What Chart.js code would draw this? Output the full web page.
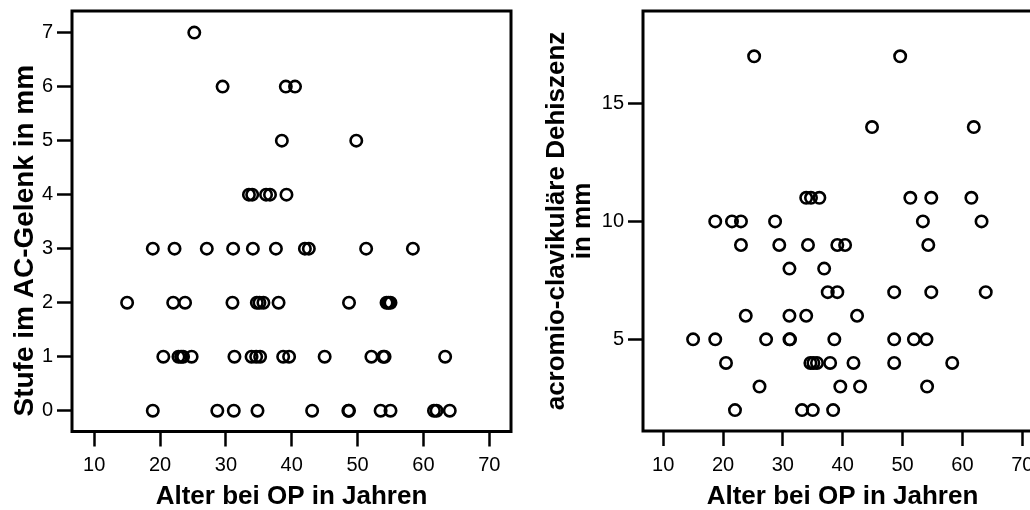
<!DOCTYPE html>
<html>
<head>
<meta charset="utf-8">
<script src="https://cdn.jsdelivr.net/npm/chart.js@4/dist/chart.umd.min.js"></script>
<style>
  html, body { margin: 0; padding: 0; background: #fff; }
  body { width: 1030px; height: 510px; overflow: hidden; position: relative; }
  #wl { position: absolute; left: 0; top: 0; width: 520px; height: 510px; }
  #wr { position: absolute; left: 520px; top: 0; width: 540px; height: 510px; }
</style>
</head>
<body>
<div id="wl"><canvas id="cl" width="520" height="510"></canvas></div>
<div id="wr"><canvas id="cr" width="540" height="510"></canvas></div>
<script>
// ---------- Data ----------
const xTitle = "Alter bei OP in Jahren";
const leftYTitle = "Stufe im AC-Gelenk in mm";
const rightYTitle = ["acromio-clavikuläre Dehiszenz", "in mm"];

const xTicks = [10, 20, 30, 40, 50, 60, 70];
const leftYTicks = [0, 1, 2, 3, 4, 5, 6, 7];
const rightYTicks = [5, 10, 15];

// Left panel: age at surgery vs. AC-joint step (mm)
const ageLeft = [
  25.2,
  29.5, 39.1, 40.5,
  38.5, 49.8,
  33.5, 34.0, 36.1, 36.7, 39.2,
  18.9, 22.2, 27.1, 31.1, 34.1, 37.6, 42.0, 42.6, 51.3, 58.4,
  15.0, 22.0, 23.8, 31.0, 34.7, 35.1, 35.7, 38.0, 48.7, 54.4, 54.7, 55.0,
  20.5, 22.8, 23.2, 23.5, 24.8, 31.3, 33.9, 34.6, 35.2, 38.7, 39.6, 45.0, 52.1, 53.9, 54.1, 63.3,
  18.9, 28.7, 31.2, 34.8, 43.1, 48.6, 48.7, 53.5, 55.0, 61.6, 62.0, 64.0
];
const stufe = [
  7,
  6, 6, 6,
  5, 5,
  4, 4, 4, 4, 4,
  3, 3, 3, 3, 3, 3, 3, 3, 3, 3,
  2, 2, 2, 2, 2, 2, 2, 2, 2, 2, 2, 2,
  1, 1, 1, 1, 1, 1, 1, 1, 1, 1, 1, 1, 1, 1, 1, 1,
  0, 0, 0, 0, 0, 0, 0, 0, 0, 0, 0, 0
];

// Right panel: age at surgery vs. acromio-clavicular dehiscence (mm)
const ageRight = [
  25.2, 49.6,
  44.9, 61.9,
  33.9, 34.7, 36.1, 51.3, 54.8, 61.5,
  18.7, 21.5, 23.0, 28.7, 53.4, 63.2,
  23.0, 29.4, 34.2, 39.1, 40.4, 54.3,
  31.1, 36.9,
  37.5, 39.1, 48.6, 54.8, 63.9,
  23.8, 31.1, 33.9, 42.4,
  15.0, 18.7, 27.2, 31.1, 31.2, 38.6, 48.6, 51.9, 54.0,
  20.5, 34.6, 35.1, 35.7, 37.9, 41.8, 48.6, 58.3,
  26.1, 39.6, 42.9, 54.1,
  22.0, 33.2, 35.0, 38.4
];
const dehiszenz = [
  17, 17,
  14, 14,
  11, 11, 11, 11, 11, 11,
  10, 10, 10, 10, 10, 10,
  9, 9, 9, 9, 9, 9,
  8, 8,
  7, 7, 7, 7, 7,
  6, 6, 6, 6,
  5, 5, 5, 5, 5, 5, 5, 5, 5,
  4, 4, 4, 4, 4, 4, 4, 4,
  3, 3, 3, 3,
  2, 2, 2, 2
];

// ---------- Styling / helpers ----------
const FONT = "'Liberation Sans', Arial, Helvetica, sans-serif";
Chart.defaults.font.family = FONT;
Chart.defaults.color = '#000';

const framePlugin = {
  id: 'frame',
  afterDraw(chart) {
    const a = chart.chartArea, ctx = chart.ctx;
    ctx.save();
    ctx.strokeStyle = '#000';
    ctx.lineWidth = 3;
    ctx.strokeRect(a.left, a.top, a.right - a.left, a.bottom - a.top);
    ctx.restore();
  }
};

function zip(xs, ys) { return xs.map((x, i) => ({ x: x, y: ys[i] })); }

function noPad(s) { s.paddingTop = 0; s.paddingBottom = 0; s.paddingLeft = 0; s.paddingRight = 0; }

function axisX(height) {
  return {
    type: 'linear', position: 'bottom', min: 6.63, max: 73.3,
    afterBuildTicks: s => { s.ticks = xTicks.map(v => ({ value: v })); },
    afterFit: s => { s.height = height; noPad(s); },
    ticks: { font: { size: 20 }, color: '#000', padding: 7, maxRotation: 0, autoSkip: false },
    grid: { drawOnChartArea: false, drawTicks: true, tickLength: 15, tickWidth: 2.5, tickColor: '#000', color: '#000' },
    border: { display: false },
    title: { display: true, text: xTitle, color: '#000', font: { size: 26, weight: 'bold', lineHeight: 1 }, padding: { top: 0, bottom: 0 } }
  };
}

function axisY(min, max, tickArr, width, title, tsize, tpad) {
  return {
    type: 'linear', position: 'left', min: min, max: max,
    afterBuildTicks: s => { s.ticks = tickArr.map(v => ({ value: v })); },
    afterFit: s => { s.width = width; noPad(s); },
    ticks: { font: { size: 20 }, color: '#000', padding: 4, autoSkip: false },
    grid: { drawOnChartArea: false, drawTicks: true, tickLength: 15, tickWidth: 2.5, tickColor: '#000', color: '#000' },
    border: { display: false },
    title: { display: true, text: title, color: '#000', font: { size: tsize, weight: 'bold', lineHeight: 1 }, padding: { top: tpad, bottom: 0 } }
  };
}

function scatterCfg(data, xAxis, yAxis, padding) {
  return {
    type: 'scatter',
    data: { datasets: [{
      data: data,
      pointStyle: 'circle',
      pointRadius: 5.7,
      pointHoverRadius: 5.7,
      pointBorderWidth: 2.6,
      borderColor: '#000',
      backgroundColor: 'rgba(0,0,0,0)',
      pointBackgroundColor: 'rgba(0,0,0,0)',
      pointBorderColor: '#000',
      showLine: false,
      clip: false
    }]},
    options: {
      responsive: false,
      animation: false,
      devicePixelRatio: 1,
      events: [],
      layout: { padding: padding },
      plugins: { legend: { display: false }, tooltip: { enabled: false } },
      scales: { x: xAxis, y: yAxis }
    },
    plugins: [framePlugin]
  };
}

// Left chart (trailing spaces nudge the rotated title downward as in the original)
new Chart(document.getElementById('cl'), scatterCfg(
  zip(ageLeft, stufe),
  axisX(78.5),
  axisY(-0.385, 7.40, leftYTicks, 72, leftYTitle + '\u00a0\u00a0\u00a0\u00a0\u00a0', 28, 11.5),
  { top: 11, right: 9, bottom: 0, left: 0 }
));

// Right chart
new Chart(document.getElementById('cr'), scatterCfg(
  zip(ageRight, dehiszenz),
  axisX(79),
  axisY(1.114, 18.92, rightYTicks, 123, rightYTitle, 26, 23.7),
  { top: 11, right: 18, bottom: 0, left: 0 }
));
</script>
</body>
</html>
